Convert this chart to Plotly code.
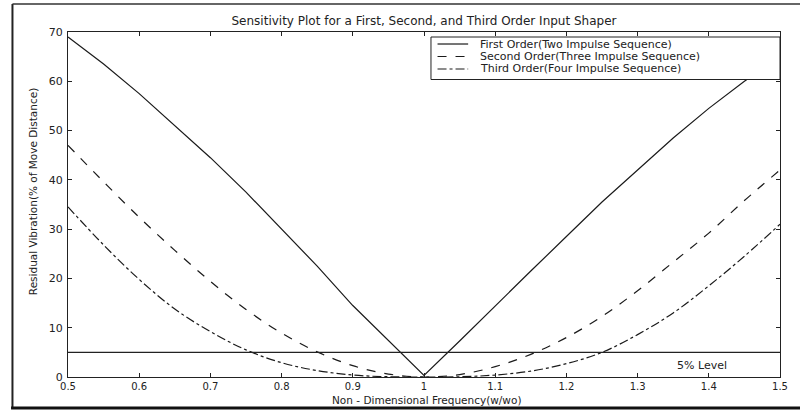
import plotly.graph_objects as go

freq = [0.5, 0.55, 0.6, 0.65, 0.7, 0.75, 0.8, 0.85, 0.9, 0.95, 1.0,
        1.05, 1.1, 1.15, 1.2, 1.25, 1.3, 1.35, 1.4, 1.45, 1.5]
first_order = [69, 63.5, 57.5, 51, 44.5, 37.5, 30, 22.5, 14.5, 7.3, 0.3,
               7.3, 14.5, 21.5, 28.5, 35.5, 42, 48.5, 54.5, 60, 65]
second_order = [47, 39.6, 32.4, 25.7, 19.4, 13.7, 8.9, 5.1, 2.3, 0.6, 0,
                0.5, 2.1, 4.6, 8.0, 12.3, 17.5, 23.3, 29.2, 35.8, 42]
third_order = [34.5, 26.8, 19.8, 13.8, 9.2, 5.5, 2.9, 1.3, 0.4, 0.05, 0,
               0.05, 0.4, 1.2, 2.7, 5.0, 8.6, 13.0, 18.5, 24.5, 31]
level_x = [0.5, 1.5]
level_y = [5, 5]

series_names = ["First Order(Two Impulse Sequence)",
                "Second Order(Three Impulse Sequence)",
                "Third Order(Four Impulse Sequence)"]
series_dash = ["solid", "dash", "dashdot"]

x_ticks = [0.5, 0.6, 0.7, 0.8, 0.9, 1.0, 1.1, 1.2, 1.3, 1.4, 1.5]
x_ticktext = ["0.5", "0.6", "0.7", "0.8", "0.9", "1", "1.1", "1.2", "1.3", "1.4", "1.5"]
y_ticks = [0, 10, 20, 30, 40, 50, 60, 70]

font = "DejaVu Sans, Liberation Sans, sans-serif"
ink = "#1a1a1a"

fig = go.Figure()
for ys, nm, ds in zip([first_order, second_order, third_order], series_names, series_dash):
    fig.add_trace(go.Scatter(x=freq, y=ys, mode="lines",
                             line_shape="linear" if ds == "solid" else "spline",
                             line=dict(color=ink, width=1.2, dash=ds),
                             name=nm, showlegend=False))
fig.add_trace(go.Scatter(x=level_x, y=level_y, mode="lines",
                         line=dict(color="#222", width=1.1), showlegend=False,
                         hoverinfo="skip"))

fig.add_annotation(x=1.39, y=2.3, text="5% Level", showarrow=False,
                   font=dict(size=11, color="#222", family=font))

# manual legend box (MATLAB style, compact rows)
lg_x0, lg_x1, lg_y0, lg_y1 = 0.5098, 1.0, 0.8623, 0.9855
row_y = [0.9652, 0.929, 0.8928]
fig.add_shape(type="rect", xref="paper", yref="paper", x0=lg_x0, x1=lg_x1,
              y0=lg_y0, y1=lg_y1, fillcolor="white", line=dict(color="#222", width=1),
              layer="above")
for ry, nm, ds in zip(row_y, series_names, series_dash):
    fig.add_shape(type="line", xref="paper", yref="paper", x0=0.519, x1=0.562,
                  y0=ry, y1=ry, line=dict(color=ink, width=1.2, dash=ds), layer="above")
    fig.add_annotation(xref="paper", yref="paper", x=0.576, y=ry, xanchor="left",
                       yanchor="middle", text=nm, showarrow=False,
                       font=dict(size=11, color="#222", family=font))

# scanned page frame
fig.add_shape(type="line", xref="paper", yref="paper", x0=-0.078, x1=-0.078,
              y0=-0.09, y1=1.081, line=dict(color="#222", width=2))
fig.add_shape(type="line", xref="paper", yref="paper", x0=-0.08, x1=1.03,
              y0=-0.09, y1=-0.09, line=dict(color="#111", width=3))
fig.add_shape(type="line", xref="paper", yref="paper", x0=-0.078, x1=1.03,
              y0=1.081, y1=1.081, line=dict(color="#333", width=1.5))

axis_common = dict(showline=True, linecolor="#222", linewidth=1, mirror="ticks",
                   ticks="inside", ticklen=4, tickcolor="#222", showgrid=False,
                   zeroline=False)

fig.update_xaxes(range=[0.5, 1.5], tickvals=x_ticks, ticktext=x_ticktext,
                 ticklabelstandoff=0,
                 tickfont=dict(size=10, color="#222", family=font), **axis_common)
fig.update_yaxes(range=[0, 70], tickvals=y_ticks, ticklabelstandoff=2,
                 tickfont=dict(size=11, color="#222", family=font), **axis_common)

fig.add_annotation(xref="paper", yref="paper", x=0.503, y=-0.068,
                   text="Non - Dimensional Frequency(w/wo)", showarrow=False,
                   xanchor="center", yanchor="middle",
                   font=dict(size=10.5, color="#222", family=font))
fig.add_annotation(xref="paper", yref="paper", x=-0.049, y=0.536, textangle=-90,
                   text="Residual Vibration(% of Move Distance)", showarrow=False,
                   xanchor="center", yanchor="middle",
                   font=dict(size=10.5, color="#222", family=font))

fig.update_layout(
    width=800, height=412,
    margin=dict(l=68, r=18, t=32, b=35),
    paper_bgcolor="white", plot_bgcolor="white",
    title=dict(text="Sensitivity Plot for a First, Second, and Third Order Input Shaper",
               x=0.53, xanchor="center", y=0.949, yanchor="middle",
               font=dict(size=12, color="#222", family=font)),
    showlegend=False,
)

fig.write_html("out.html")
